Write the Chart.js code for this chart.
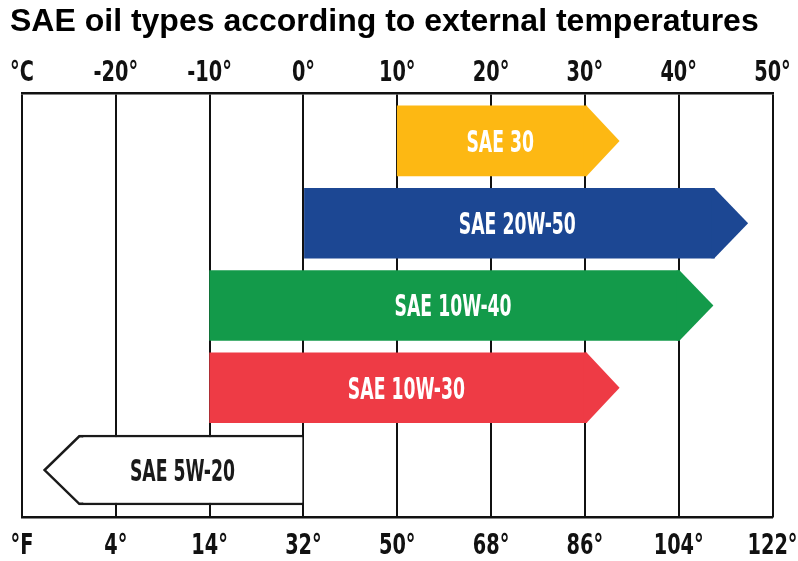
<!DOCTYPE html>
<html>
<head>
<meta charset="utf-8">
<script src="https://cdn.jsdelivr.net/npm/chart.js@4.4.1/dist/chart.umd.min.js"></script>
<style>
  html, body { margin: 0; padding: 0; background: #fff; }
</style>
</head>
<body>
<canvas id="oilChart" width="798" height="561"></canvas>
<script>
// oil grades, top to bottom
const oilNames = ['SAE 30', 'SAE 20W-50', 'SAE 10W-40', 'SAE 10W-30', 'SAE 5W-20'];
// temperature range in °C (rect part), arrow tip beyond the end
const rangeFrom = [10, 0, -10, -10, 0];
const rangeTo = [30.2, 43.8, 40.1, 30.2, -23.9];
const arrowTip = [33.7, 47.4, 43.7, 33.7, -27.7];
const oilColors = ['#FDB813', '#1C4793', '#139A4A', '#EE3B45', '#FFFFFF'];
const labelColors = ['#FFFFFF', '#FFFFFF', '#FFFFFF', '#FFFFFF', '#1A1A1A'];
// axis tick labels
const celsiusTicks = ['°C', '-20°', '-10°', '0°', '10°', '20°', '30°', '40°', '50°'];
const fahrenheitTicks = ['°F', '4°', '14°', '32°', '50°', '68°', '86°', '104°', '122°'];

// no narrow font installed -> condensed font squeezed on the canvas
const narrow = "'Liberation Sans Narrow', 'DejaVu Sans Condensed', 'Liberation Sans', sans-serif";

// draw text squeezed horizontally around (x, y)
const squeezedText = (ctx, text, x, y, sx, font, color) => {
  ctx.save();
  ctx.translate(x, y);
  ctx.scale(sx, 1);
  ctx.font = font;
  ctx.fillStyle = color;
  ctx.textAlign = 'center';
  ctx.textBaseline = 'alphabetic';
  ctx.fillText(text, 0, 0);
  ctx.restore();
};

// ROLE: draws arrow heads and the grade names on top of the bars
const arrowPlugin = {
  id: 'oilArrows',
  afterDatasetsDraw(chart) {
    const ctx = chart.ctx;
    const xs = chart.scales.x;
    const meta = chart.getDatasetMeta(0);
    meta.data.forEach((bar, i) => {
      const half = bar.height / 2;
      const endPx = xs.getPixelForValue(rangeTo[i]);
      const tipPx = xs.getPixelForValue(arrowTip[i]);
      const dir = Math.sign(tipPx - endPx);
      ctx.save();
      ctx.beginPath();
      ctx.moveTo(endPx - dir * 3, bar.y - half);
      ctx.lineTo(endPx, bar.y - half);
      ctx.lineTo(tipPx, bar.y);
      ctx.lineTo(endPx, bar.y + half);
      ctx.lineTo(endPx - dir * 3, bar.y + half);
      ctx.closePath();
      ctx.fillStyle = oilColors[i];
      ctx.fill();
      if (i === 4) {
        // outlined white arrow
        ctx.beginPath();
        ctx.moveTo(endPx - dir * 4, bar.y - half + 1.25);
        ctx.lineTo(endPx, bar.y - half + 1.25);
        ctx.lineTo(tipPx + 1, bar.y);
        ctx.lineTo(endPx, bar.y + half - 1.25);
        ctx.lineTo(endPx - dir * 4, bar.y + half - 1.25);
        ctx.lineWidth = 2.5;
        ctx.strokeStyle = '#1A1A1A';
        ctx.lineJoin = 'miter';
        ctx.stroke();
      }
      ctx.restore();
      // label roughly centred on the arrow
      const startPx = xs.getPixelForValue(rangeFrom[i]);
      const cx = ((startPx + endPx) / 2 + (startPx + tipPx) / 2) / 2;
      squeezedText(ctx, oilNames[i], cx, bar.y + 11, 0.64, 'bold 30px ' + narrow, labelColors[i]);
    });
  },
  // tick labels, squeezed like the condensed poster font
  afterDraw(chart) {
    const ctx = chart.ctx;
    const font = 'bold 29px ' + narrow;
    const top = chart.scales.x;
    const bottom = chart.scales.x2;
    top.ticks.forEach((t, idx) => {
      squeezedText(ctx, celsiusTicks[idx], top.getPixelForValue(t.value), chart.chartArea.top - 12.5, 0.74, font, '#111');
    });
    bottom.ticks.forEach((t, idx) => {
      squeezedText(ctx, fahrenheitTicks[idx], bottom.getPixelForValue(t.value), chart.chartArea.bottom + 36.5, 0.74, font, '#111');
    });
  },
};

const config = {
  type: 'bar',
  data: {
    datasets: [
      {
        label: 'Temperature range',
        data: oilNames.map((n, i) => ({ y: i, x: [rangeFrom[i], rangeTo[i]] })),
        backgroundColor: oilColors,
        borderColor: '#1A1A1A',
        borderWidth: [0, 0, 0, 0, 2.5],
        borderSkipped: 'left',
        barThickness: 70,
        xAxisID: 'x',
        yAxisID: 'y',
      },
    ],
  },
  options: {
    indexAxis: 'y',
    responsive: false,
    animation: false,
    events: [],
    layout: { padding: { left: 10, right: 25.5, top: 0, bottom: 0 } },
    plugins: {
      legend: { display: false },
      tooltip: { enabled: false },
      title: {
        display: true,
        text: 'SAE oil types according to external temperatures',
        align: 'start',
        color: '#000',
        font: { family: "'Liberation Sans', Arial, sans-serif", size: 32, weight: 'bold', lineHeight: 1.2 },
        padding: { top: 3, bottom: 0 },
      },
    },
    scales: {
      x: {
        type: 'linear',
        position: 'top',
        min: -30,
        max: 50,
        ticks: { stepSize: 10, display: false },
        grid: { color: '#111', lineWidth: 2, drawTicks: false },
        border: { display: true, color: '#111', width: 2.5 },
        afterFit: (scale) => { scale.height = 52; },
      },
      x2: {
        type: 'linear',
        position: 'bottom',
        min: -30,
        max: 50,
        ticks: { stepSize: 10, display: false },
        grid: { display: false, drawTicks: false },
        border: { display: true, color: '#111', width: 2.5 },
        afterFit: (scale) => { scale.height = 43.5; },
      },
      y: {
        type: 'linear',
        reverse: true,
        offset: false,
        bounds: 'data',
        min: -0.578,
        max: 4.577,
        ticks: { display: false },
        grid: { display: false },
        border: { display: false },
        afterFit: (scale) => { scale.width = 12; },
      },
    },
  },
  plugins: [arrowPlugin],
};

const oilChart = new Chart(document.getElementById('oilChart'), config);
</script>
</body>
</html>
